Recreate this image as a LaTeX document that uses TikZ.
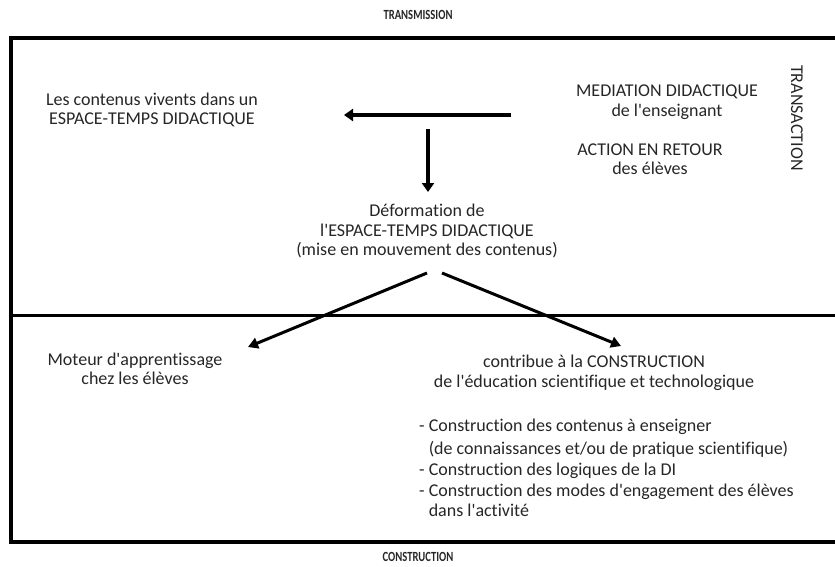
\documentclass[tikz,border=0pt]{standalone}
\usepackage{fontspec}
\setmainfont{Carlito}[Ligatures={TeXOff,NoCommon}]
\usetikzlibrary{arrows.meta}
\begin{document}
\begin{tikzpicture}[x=1pt,y=-1pt,
  txt/.style={inner sep=0pt,align=center,font=\fontsize{18}{19.5}\selectfont,text=black!85},
  title/.style={inner sep=0pt,xscale=0.76,font=\fontsize{14}{16}\selectfont\bfseries,text=black!85},
  frame/.style={line width=3.5pt},
  arr/.style={line width=4pt,-{Triangle[length=9pt,width=12pt]}},
  darr/.style={line width=3pt,-{Triangle[length=10pt,width=11pt]}}]
\useasboundingbox (0,0) rectangle (835,567);
% frame
\draw[frame] (840,38) -- (11,38) -- (11,542) -- (840,542);
\draw[line width=3pt] (11,315) -- (840,315);
% titles
\node[title] (transm) at (418,15) {TRANSMISSION};
\node[title] (constr) at (418,557) {CONSTRUCTION};
\node[txt,rotate=-90] (transa) at (797,118) {TRANSACTION};
% texts
\node[txt] (les) at (152,110) {Les contenus vivents dans un\\ESPACE-TEMPS DIDACTIQUE};
\node[txt] (med) at (667,102) {MEDIATION DIDACTIQUE\\de l'enseignant};
\node[txt] (act) at (650,159) {ACTION EN RETOUR\\des élèves};
\node[txt] (def) at (427,231) {Déformation de\\l'ESPACE-TEMPS DIDACTIQUE\\(mise en mouvement des contenus)};
\node[txt] (mot) at (135,369) {Moteur d'apprentissage\\chez les élèves};
\node[txt] (contr) at (594,373) {contribue à la CONSTRUCTION\\de l'éducation scientifique et technologique};
\node[txt,align=left,anchor=north west,font=\fontsize{18}{21}\selectfont] (list) at (419,419)
  {- Construction des contenus à enseigner\\[2pt]
   \phantom{- }(de connaissances et/ou de pratique scientifique)\\
   - Construction des logiques de la DI\\
   - Construction des modes d'engagement des élèves\\[-1pt]
   \phantom{- }dans l'activité};
% arrow anchor points
\coordinate (hs) at (511,115);
\coordinate (he) at (344,115);
\coordinate (vs) at (428,129);
\coordinate (ve) at (428,192);
\coordinate (ls) at (427,273);
\coordinate (le) at (248,347);
\coordinate (rs) at (442,273);
\coordinate (re) at (621,346);
\draw[arr] (hs) -- (he);
\draw[arr] (vs) -- (ve);
\draw[darr] (ls) -- (le);
\draw[darr] (rs) -- (re);
\end{tikzpicture}
\end{document}
